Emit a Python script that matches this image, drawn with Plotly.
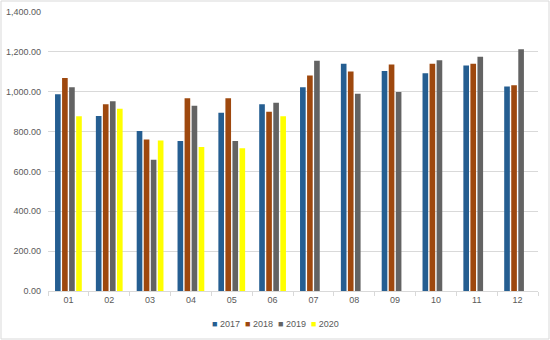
import plotly.graph_objects as go

months = ["01", "02", "03", "04", "05", "06", "07", "08", "09", "10", "11", "12"]
v2017 = [987, 878, 803, 753, 894, 937, 1022, 1140, 1104, 1093, 1131, 1026]
v2018 = [1069, 937, 760, 967, 967, 900, 1081, 1101, 1136, 1140, 1140, 1033]
v2019 = [1022, 952, 659, 929, 753, 944, 1155, 990, 999, 1158, 1175, 1213]
v2020 = [877, 914, 755, 723, 716, 877, None, None, None, None, None, None]

series = [
    ("2017", v2017, "#255E91"),
    ("2018", v2018, "#9E480E"),
    ("2019", v2019, "#636363"),
    ("2020", v2020, "#FFFF00"),
]

fig = go.Figure()
for name, vals, color in series:
    fig.add_trace(go.Bar(x=months, y=vals, name=name, marker_color=color,
                         marker_line_width=0, showlegend=False))

W, H = 550, 340
ml, mr, mt, mb = 48, 12, 12, 49
pw, ph = W - ml - mr, H - mt - mb

# compact legend row: coloured squares followed by the series names
legend_text = "  ".join(
    f"<span style='color:{c}'>■</span> {n}" for n, _, c in series
)

fig.update_layout(
    width=W, height=H,
    margin=dict(l=ml, r=mr, t=mt, b=mb, autoexpand=False),
    paper_bgcolor="white", plot_bgcolor="white",
    barmode="group", bargap=0.31, bargroupgap=0.2,
    font=dict(family="Liberation Sans", size=9, color="#595959"),
    xaxis=dict(showgrid=False, showline=True, linecolor="#d9d9d9", linewidth=1,
               ticks="outside", tickson="boundaries", ticklen=4, tickcolor="#d9d9d9",
               tickfont=dict(size=9, color="#595959")),
    yaxis=dict(range=[0, 1400], dtick=200, tickformat=",.2f", showgrid=True,
               gridcolor="#d9d9d9", gridwidth=1, zeroline=False, showline=False,
               ticks="", ticklabelstandoff=6,
               tickfont=dict(size=9, color="#595959")),
    annotations=[dict(text=legend_text, xref="paper", yref="paper",
                      x=(275 - ml) / pw, y=-(324 - (H - mb)) / ph,
                      xanchor="center", yanchor="middle", showarrow=False,
                      font=dict(size=9, color="#595959"))],
    shapes=[dict(type="rect", xref="paper", yref="paper",
                 x0=-(ml - 1) / pw, x1=1 + (mr - 1) / pw,
                 y0=-(mb - 1) / ph, y1=1 + (mt - 1) / ph,
                 line=dict(color="#d9d9d9", width=1), layer="below")],
)

fig.write_html("out.html")
